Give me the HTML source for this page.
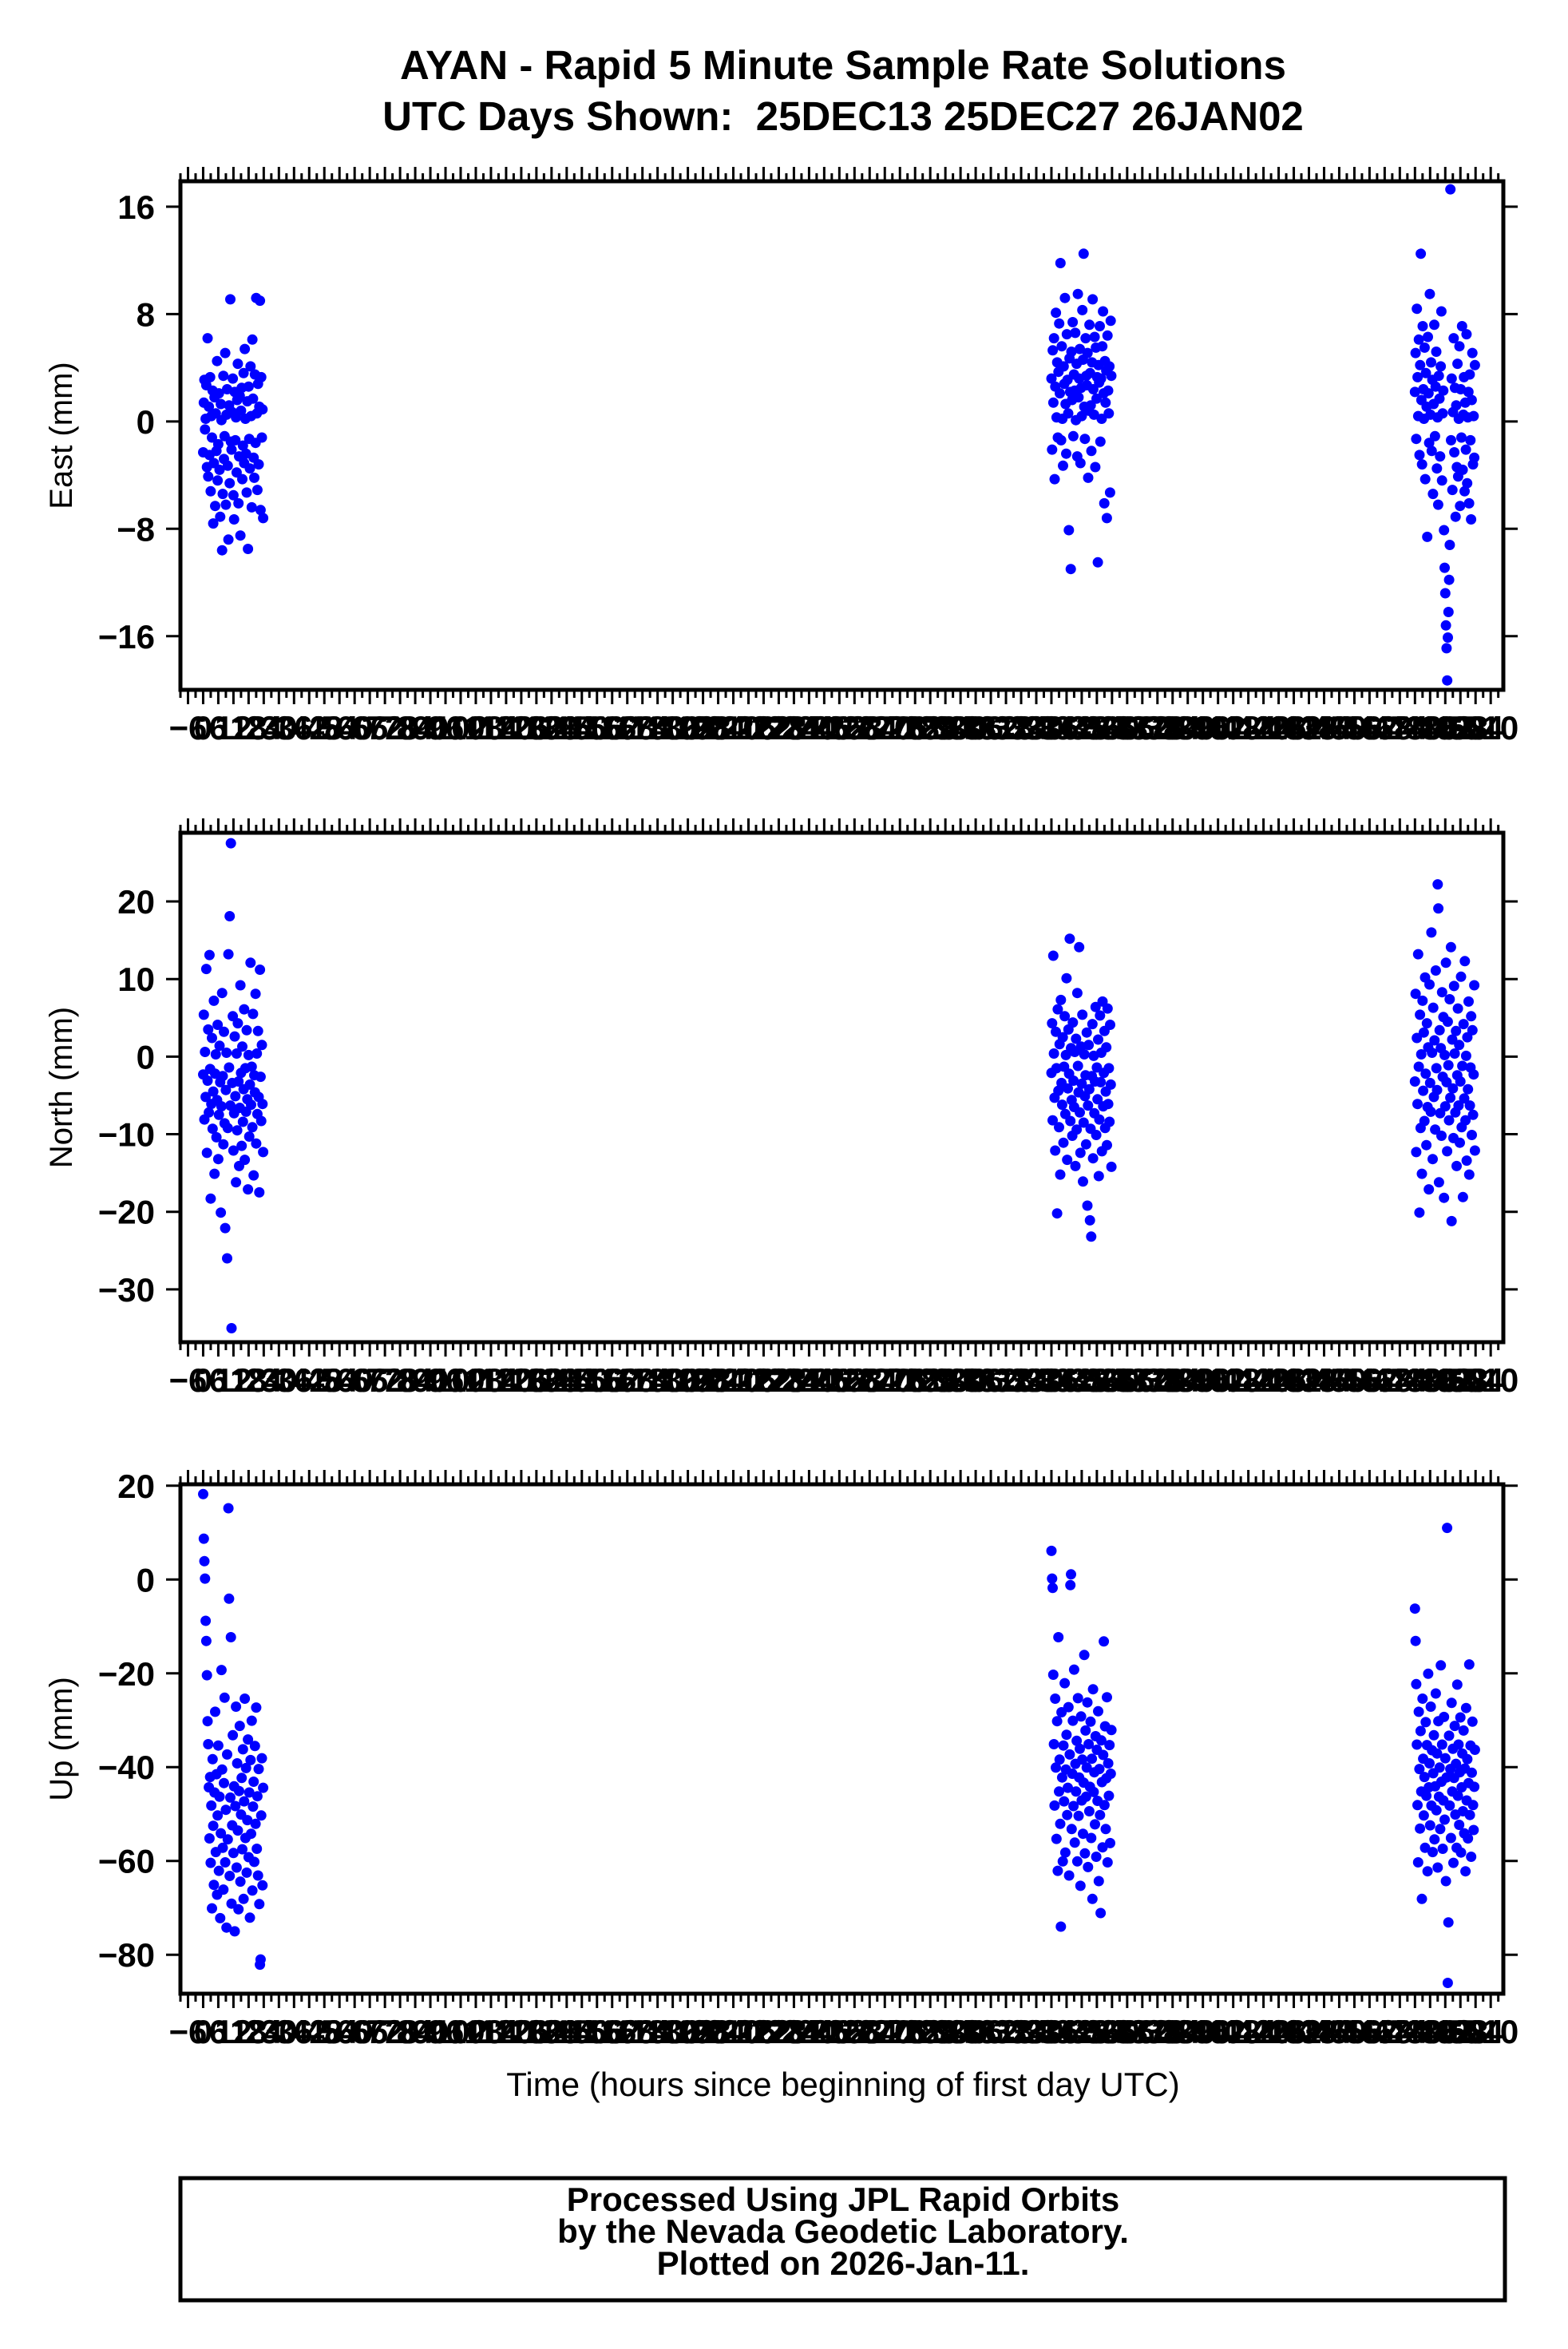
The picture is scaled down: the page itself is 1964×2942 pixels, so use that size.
<!DOCTYPE html>
<html><head><meta charset="utf-8"><style>
html,body{margin:0;padding:0;background:#fff;}
svg{display:block;}
text{font-family:"Liberation Sans",sans-serif;}
</style></head><body>
<svg id="chart" width="1964" height="2942" viewBox="0 0 1964 2942" xmlns="http://www.w3.org/2000/svg">
<text x="1056" y="99" font-size="51" font-weight="bold" text-anchor="middle">AYAN - Rapid 5 Minute Sample Rate Solutions</text>
<text x="1056" y="163" font-size="51" font-weight="bold" text-anchor="middle" xml:space="preserve">UTC Days Shown:  25DEC13 25DEC27 26JAN02</text>
<g id="panels"></g>
<text x="1056" y="2625" font-size="42" text-anchor="middle">Time (hours since beginning of first day UTC)</text>
<rect x="226" y="2728" width="1659" height="153" fill="none" stroke="#000" stroke-width="5"/>
<text x="1056" y="2769" font-size="42" font-weight="bold" text-anchor="middle">Processed Using JPL Rapid Orbits</text>
<text x="1056" y="2809" font-size="42" font-weight="bold" text-anchor="middle">by the Nevada Geodetic Laboratory.</text>
<text x="1056" y="2849" font-size="42" font-weight="bold" text-anchor="middle">Plotted on 2026-Jan-11.</text>
</svg>
<script>
// Day start hours for the three clusters
const dayStarts = [0, 336, 480];
const eastDay1 = [-2.3,1.4,3.1,-0.6,0.2,2.7,-3.4,6.2,-4.1,1.1,-2.5,3.3,-5.2,0.4,-1.2,2.3,-7.6,-3.1,1.8,-6.3,0.6,-2.2,4.5,-4.4,-1.7,2.1,-3.6,-7.1,1.3,0.1,-9.6,-5.4,3.4,-2.8,-1.1,5.1,-6.2,0.5,2.4,-3.3,-8.8,1.2,-4.6,9.1,-1.5,-2.1,0.7,3.2,-5.5,-7.3,2.2,-1.4,0.3,-3.8,1.6,4.3,-6.1,-2.6,1.9,-8.5,0.8,2.5,-4.3,-1.8,3.6,-3.1,5.4,0.2,-2.4,-5.3,1.5,-9.5,2.6,-1.3,-3.5,4.1,0.4,-6.4,6.1,1.7,-2.7,-4.2,3.5,-1.6,9.2,0.6,-5.1,2.8,-3.2,1.1,9.0,-6.6,3.3,-1.2,0.9,-7.2];
const eastDay2 = [3.2,-2.1,5.3,1.4,6.2,-4.3,2.6,8.1,0.3,4.4,-1.2,3.7,7.3,2.1,11.8,-1.4,5.6,0.2,-3.3,4.1,2.8,9.2,1.3,-2.4,6.5,3.1,0.6,-8.1,4.7,2.2,-11.0,5.2,1.6,7.4,-1.1,3.5,2.3,6.6,0.1,4.3,-2.6,9.5,1.8,3.2,5.4,-3.1,2.5,0.4,8.3,4.6,12.5,1.1,-1.3,6.2,3.4,2.7,5.1,-4.2,0.8,7.2,3.6,1.2,-2.2,4.4,9.1,2.4,0.5,6.3,-3.4,5.5,1.7,3.3,-10.5,4.2,2.9,7.1,-1.5,3.2,0.2,5.6,8.2,2.1,-6.1,4.5,1.4,3.8,-7.2,6.4,2.3,0.6,4.1,-5.3,7.5,3.4];
const eastDay3 = [2.2,5.1,-1.3,8.4,3.3,0.4,6.1,-2.5,4.2,12.5,1.6,-3.2,7.1,2.4,0.2,5.5,-4.3,3.6,1.1,-8.6,6.3,2.1,-1.6,9.5,0.5,4.4,-2.2,3.1,-5.4,1.3,7.2,-1.1,2.6,5.2,-3.5,0.3,-6.2,3.4,1.7,-2.6,4.1,8.2,-4.4,0.6,2.3,-8.1,-10.9,-12.8,-15.2,-16.9,-19.3,-16.1,-14.2,-11.8,-9.2,17.3,-1.4,3.2,-5.1,0.7,6.2,-2.3,2.5,-7.1,1.2,-3.4,4.3,-4.1,0.2,5.6,-6.3,2.4,-1.2,7.1,-3.6,0.5,3.3,-5.2,1.4,-2.1,6.5,-4.6,0.3,2.2,-6.1,3.5,-1.4,-7.3,1.6,5.1,-3.2,0.4,-2.7,4.2];
const northDay1 = [-2.3,5.4,-8.1,0.6,-5.2,11.3,-12.4,-3.1,3.5,-7.2,13.1,-1.6,-18.3,-6.1,2.4,-9.3,-4.5,7.2,-15.1,-2.2,0.3,-10.4,-5.6,4.1,-13.2,-7.5,1.4,-3.3,-20.1,-6.4,8.2,-2.5,-11.3,3.2,-8.6,-22.1,-4.3,0.5,-26.0,-9.2,13.2,-1.4,18.1,-6.3,27.5,-35.0,-3.4,5.2,-12.1,-7.3,2.6,-5.1,-16.2,0.4,-9.5,4.3,-3.2,-14.1,-6.6,9.2,-2.1,-11.5,1.3,-8.4,-4.2,6.1,-13.3,-1.5,-7.1,3.4,-5.5,-17.1,0.2,-10.3,-3.6,12.1,-6.2,-1.3,-9.1,5.5,-15.3,-2.4,-4.6,8.1,-11.2,0.4,-7.4,3.3,-5.2,-17.5,11.2,-2.6,-8.3,1.5,-6.1,-12.3];
const northDay2 = [-2.1,4.3,-8.2,13.0,0.4,-5.3,-12.1,3.2,-1.5,-20.2,6.1,-4.4,-9.1,1.6,-15.2,7.3,-3.4,-6.2,2.5,-11.1,-1.3,5.2,-7.4,0.2,10.1,-13.3,-4.1,3.5,-2.2,15.2,-8.3,1.1,-5.6,-10.2,4.4,-3.1,-6.5,0.6,-14.1,2.3,-9.4,8.2,-1.2,-4.6,14.1,-7.2,-12.4,1.3,-3.5,5.4,-16.1,-8.5,0.3,-5.1,-2.4,-11.3,3.1,-19.2,-6.3,1.5,-4.2,-21.1,-9.3,-23.2,-2.5,4.2,-13.1,0.1,-7.3,-3.2,6.4,-10.1,-1.4,-5.5,2.2,-15.4,-8.1,5.3,-3.3,0.5,-12.2,7.1,-6.4,-2.1,3.3,-9.2,-4.5,1.2,-11.4,6.2,-6.1,-1.5,-8.4,4.1,-3.6,-14.2];
const northDay3 = [-3.2,8.1,-12.3,2.4,-6.1,13.2,-1.3,-20.1,5.4,-9.2,0.3,-15.1,7.2,-4.4,3.1,-8.3,10.2,-2.2,-11.4,4.3,-6.5,1.2,-17.1,9.3,-3.4,-7.1,16.0,0.5,-13.2,6.3,-5.2,2.1,-9.4,11.1,-1.5,-4.3,22.2,19.1,-16.2,3.4,-7.3,1.1,-10.2,8.3,-2.6,5.1,-18.2,0.2,-6.4,12.1,-3.3,-12.2,4.5,-1.1,-8.2,7.4,-5.3,14.1,-21.2,2.2,-4.1,-10.5,9.1,0.4,-7.2,3.3,-14.1,-2.4,6.2,-6.3,1.5,-11.1,-3.2,10.3,-9.1,-1.2,-18.1,4.2,-5.4,12.3,-8.2,0.1,-13.4,2.5,-4.2,7.1,-15.2,-6.3,-1.4,5.2,-10.1,3.4,-7.5,-2.3,9.2,-12.1];
const upDay1 = [18.2,8.7,3.9,0.2,-8.8,-13.1,-20.4,-30.2,-35.1,-44.3,-55.2,-42.1,-60.4,-48.2,-70.1,-38.3,-52.5,-65.1,-45.4,-28.2,-58.1,-41.5,-67.2,-50.3,-35.4,-62.1,-46.3,-72.2,-54.1,-19.3,-40.5,-57.2,-66.1,-43.4,-25.2,-60.3,-49.1,-74.2,-37.3,-55.4,15.2,-4.1,-63.2,-46.5,-12.3,-69.1,-52.4,-33.2,-58.3,-44.1,-75.0,-48.3,-27.1,-61.4,-39.2,-53.5,-70.3,-45.1,-31.2,-64.4,-50.1,-42.3,-57.5,-36.2,-68.1,-47.3,-25.4,-55.1,-40.2,-62.5,-51.3,-34.1,-59.2,-45.4,-72.1,-38.5,-54.2,-30.1,-66.3,-48.4,-43.1,-60.2,-35.5,-52.1,-27.3,-57.4,-46.2,-63.1,-40.4,-69.2,-82.1,-81.0,-50.3,-38.1,-65.2,-44.4];
const upDay2 = [6.1,0.2,-1.8,-20.3,-35.1,-48.2,-25.4,-40.1,-55.3,-30.2,-62.1,-12.3,-45.2,-38.4,-52.1,-74.0,-28.3,-42.2,-60.1,-35.4,-47.3,-22.1,-58.2,-40.5,-33.1,-50.2,-44.4,-27.2,-63.1,-37.3,-1.2,1.1,-53.2,-41.4,-30.1,-48.3,-19.2,-56.1,-39.3,-45.2,-34.4,-60.1,-25.3,-50.4,-42.2,-36.1,-65.3,-29.2,-47.1,-38.4,-54.2,-43.3,-16.1,-58.4,-32.2,-46.3,-40.1,-26.2,-61.3,-35.1,-49.4,-44.2,-30.3,-55.1,-38.2,-68.1,-23.4,-45.3,-41.1,-52.2,-33.4,-59.1,-36.3,-47.2,-28.1,-64.3,-40.4,-50.2,-71.1,-34.3,-43.2,-57.1,-37.4,-13.2,-48.1,-31.3,-53.2,-42.4,-25.1,-60.3,-39.2,-46.1,-35.3,-56.2,-41.4,-32.1];
const upDay3 = [-6.2,-13.1,-22.3,-35.2,-48.1,-60.3,-28.2,-40.4,-53.1,-32.3,-45.2,-68.1,-25.4,-38.2,-50.3,-42.1,-57.2,-30.4,-46.1,-35.3,-62.2,-20.1,-44.3,-39.2,-52.4,-27.1,-48.2,-36.4,-58.1,-41.3,-33.2,-55.4,-44.1,-24.3,-49.2,-37.1,-61.4,-30.2,-46.3,-40.1,-53.2,-18.3,-43.1,-35.2,-57.4,-47.1,-29.3,-51.2,-38.1,-64.3,-42.2,11.0,-86.0,-73.1,-33.3,-48.2,-40.4,-55.1,-26.3,-45.2,-36.1,-60.4,-42.3,-31.2,-50.1,-39.3,-57.2,-22.4,-46.1,-35.2,-52.3,-41.1,-29.4,-58.2,-44.3,-37.1,-49.4,-32.2,-54.1,-40.3,-62.2,-27.4,-47.1,-38.3,-55.2,-43.4,-18.1,-50.2,-35.4,-59.1,-41.2,-30.3,-48.1,-53.4,-44.2,-36.3];
const eastTicks = [16, 8, 0, -8, -16];
const northTicks = [20, 10, 0, -10, -20, -30];
const upTicks = [20, 0, -20, -40, -60, -80];
const xRange = [-9, 515];
const xTickStep = 6;

const NS = "http://www.w3.org/2000/svg";
const root = document.getElementById('panels');
const X0 = 226, X1 = 1883;
function xs(h){ return X0 + (h - xRange[0]) / (xRange[1] - xRange[0]) * (X1 - X0); }
function mk(tag, attrs, parent){
  const e = document.createElementNS(NS, tag);
  for (const k in attrs) e.setAttribute(k, attrs[k]);
  parent.appendChild(e);
  return e;
}
const panels = [
  {name:'east', label:'East (mm)', top:227, bot:864, ymin:-20, ymax:17.9, ticks:eastTicks, series:[eastDay1,eastDay2,eastDay3]},
  {name:'north', label:'North (mm)', top:1043, bot:1681, ymin:-36.8, ymax:28.85, ticks:northTicks, series:[northDay1,northDay2,northDay3]},
  {name:'up', label:'Up (mm)', top:1859, bot:2497, ymin:-88.3, ymax:20.3, ticks:upTicks, series:[upDay1,upDay2,upDay3]}
];
panels.forEach(p => {
  const g = mk('g', {}, root);
  
  
  const ys = v => p.bot - (v - p.ymin) / (p.ymax - p.ymin) * (p.bot - p.top);
  p.series.forEach((arr, d) => {
    arr.forEach((v, i) => {
      const h = dayStarts[d] + i * 24 / arr.length;
      const c = mk('circle', {cx: xs(h).toFixed(1), cy: ys(v).toFixed(1), r: 6.5, fill: '#0000ff'}, g);
      
      
    });
  });
  const fr = mk('rect', {x: X0, y: p.top, width: X1 - X0, height: p.bot - p.top, fill: 'none', stroke: '#000', 'stroke-width': 5}, g);
  
  
  const xt = mk('g', {stroke: '#000', 'stroke-width': 3}, g);
  
  
  const xl = mk('g', {'font-size': 42, 'font-weight': 'bold', 'text-anchor': 'middle'}, g);
  
  
  for (let h = Math.ceil(xRange[0] / 3) * 3; h <= xRange[1]; h += 3) {
    const x = xs(h);
    const major = (h % xTickStep === 0);
    const L = major ? 16 : 8;
    mk('line', {x1: x, x2: x, y1: p.bot + 2, y2: p.bot + 2 + L}, xt);
    mk('line', {x1: x, x2: x, y1: p.top - 2, y2: p.top - 2 - L}, xt);
    if (major) {
      const t = mk('text', {x: x, y: p.bot + 62}, xl);
      t.textContent = (h < 0 ? '\u2212' + (-h) : String(h));
    }
  }
  p.ticks.forEach(v => {
    const y = ys(v);
    mk('line', {x1: X0 - 18, x2: X0, y1: y, y2: y, stroke: '#000', 'stroke-width': 3}, g);
    mk('line', {x1: X1, x2: X1 + 18, y1: y, y2: y, stroke: '#000', 'stroke-width': 3}, g);
    const t = mk('text', {x: 194, y: y + 15, 'font-size': 42, 'font-weight': 'bold', 'text-anchor': 'end'}, g);
    
    
    t.textContent = (v < 0 ? '\u2212' + (-v) : String(v));
  });
  const cy = (p.top + p.bot) / 2;
  const yl = mk('text', {x: 0, y: 0, 'font-size': 40, 'text-anchor': 'middle', transform: 'translate(90,' + cy + ') rotate(-90)'}, g);
  
  
  yl.textContent = p.label;
});
</script>
</body></html>
